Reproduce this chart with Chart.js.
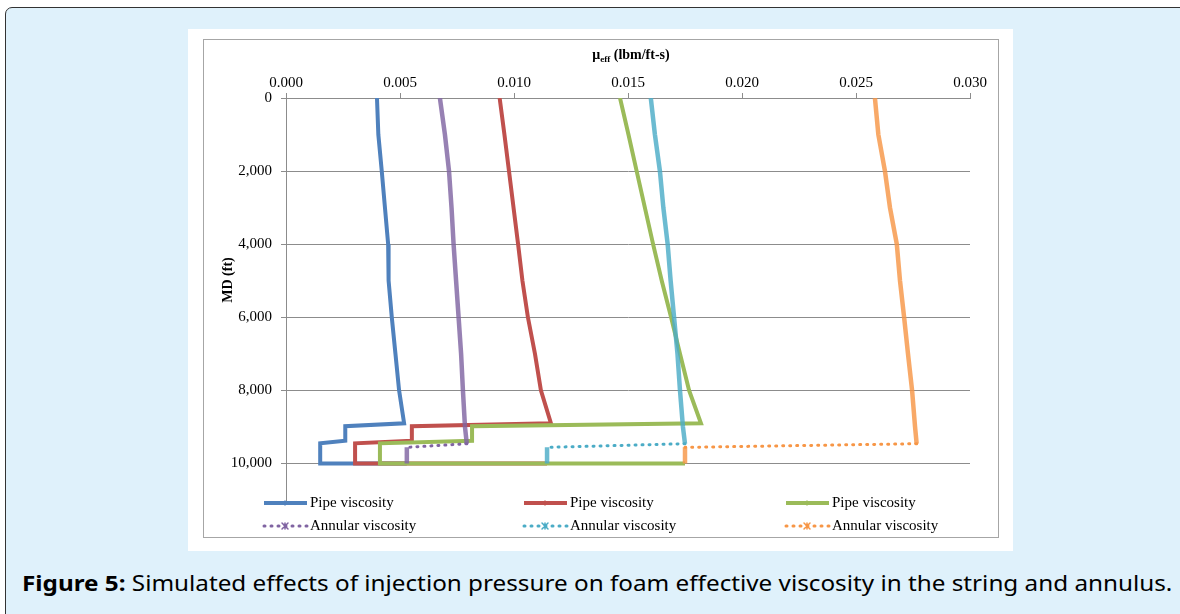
<!DOCTYPE html>
<html>
<head>
<meta charset="utf-8">
<script src="https://cdn.jsdelivr.net/npm/chart.js@4.4.1/dist/chart.umd.min.js"></script>
<style>
  body { margin: 0; background: #fff; width: 1180px; height: 614px; overflow: hidden; position: relative; }
  #moldura { position: absolute; left: 5px; top: 7px; width: 1200px; height: 640px; background: #dff1fb; border: 1.5px solid #333; border-radius: 7px; }
  #painel { position: absolute; left: 188px; top: 29px; width: 825px; height: 522px; background: #fff; }
  #caixa { position: absolute; left: 203px; top: 39px; width: 796px; height: 499px; box-sizing: border-box; border: 1.5px solid #a6a6a6; }
  #graficoViscosidade { position: absolute; left: 203px; top: 39px; }
  #legenda { position: absolute; left: 22px; top: 567px; margin: 0; font-family: "Noto Sans", sans-serif; font-size: 22px; color: #000; white-space: nowrap; transform-origin: 0 50%; }
</style>
</head>
<body>
<div id="moldura"></div>
<div id="painel"></div>
<div id="caixa"></div>
<canvas id="graficoViscosidade" width="796" height="499"></canvas>
<p id="legenda"><b>Figure 5:</b> Simulated effects of injection pressure on foam effective viscosity in the string and annulus.</p>
<script>
// depths (ft) for the pipe and annulus curves
const pipeDepth = [0, 1000, 2000, 3000, 4000, 5000, 6000, 7000, 8000, 8900, 8980, 9380, 9450, 10000, 10000];
const annularDepth = [0, 1000, 2000, 3000, 4000, 5000, 6000, 7000, 8000, 9000, 9460, 9560, 10000];

// effective viscosity (lbm/ft-s)
const pipeBlue = [0.00399, 0.00405, 0.0042, 0.00434, 0.00448, 0.0045, 0.00464, 0.0048, 0.00496, 0.00518, 0.0026, 0.0026, 0.0015, 0.0015, 0.0053];
const pipeRed = [0.00937, 0.00958, 0.00978, 0.00998, 0.01018, 0.01037, 0.01061, 0.01092, 0.01118, 0.01162, 0.00552, 0.00552, 0.00303, 0.00303, 0.01145];
const pipeGreen = [0.01465, 0.01502, 0.01538, 0.01574, 0.0161, 0.01648, 0.01689, 0.01728, 0.01768, 0.0182, 0.00816, 0.00816, 0.00412, 0.00412, 0.0175];
const annularPurple = [0.00675, 0.00697, 0.00715, 0.00726, 0.00735, 0.00746, 0.00757, 0.00768, 0.00776, 0.00785, 0.00793, 0.0053, 0.0053];
const annularTeal = [0.016, 0.01618, 0.0164, 0.01655, 0.01674, 0.01687, 0.01702, 0.01717, 0.01728, 0.01741, 0.0175, 0.01145, 0.01145];
const annularOrange = [0.02583, 0.02598, 0.02627, 0.02649, 0.02679, 0.02693, 0.02711, 0.02728, 0.02746, 0.02759, 0.02766, 0.0175, 0.0175];

const seriesLabels = ['Pipe viscosity', 'Pipe viscosity', 'Pipe viscosity', 'Annular viscosity', 'Annular viscosity', 'Annular viscosity'];
const depthTicks = [0, 2000, 4000, 6000, 8000, 10000];

const serif = '"Liberation Serif", "Times New Roman", serif';

// stretch the caption to the same width as in the figure
const $legenda = document.getElementById('legenda');
$legenda.style.transform = 'scaleX(' + (1150 / $legenda.offsetWidth) + ')';

function pontos(depths, values){
    return values.map((v, i) => ({ x: v, y: depths[i] }));
}

function plano(ctx){
    return Math.abs(ctx.p1.y - ctx.p0.y) < 12;
}

function serie(label, depths, values, color, annular, order){
    const ds = {
        label: label,
        data: pontos(depths, values),
        borderColor: color,
        backgroundColor: color,
        borderWidth: annular ? 4.5 : 4,
        pointRadius: 0,
        showLine: true,
        tension: 0,
        order: order,
        annular: annular
    };
    if (annular) {
        // nearly flat jumps are drawn dotted, the dense parts look solid
        ds.segment = {
            borderDash: ctx => plano(ctx) ? [1, 6] : undefined,
            borderWidth: ctx => plano(ctx) ? 3 : undefined,
            borderCapStyle: ctx => plano(ctx) ? 'round' : undefined,
            borderColor: ctx => plano(ctx) ? undefined : color + 'd0'
        };
    }
    return ds;
}

const decoracao = {
    id: 'decoracao',
    afterDraw(chart){
        const ctx = chart.ctx;
        ctx.save();
        ctx.fillStyle = '#000';

        // x title with subscript
        const big = 'bold 14px ' + serif;
        const small = 'bold 9px ' + serif;
        ctx.font = big;
        const wMu = ctx.measureText('\u03bc').width;
        const wRest = ctx.measureText(' (lbm/ft-s)').width;
        ctx.font = small;
        const wSub = ctx.measureText('eff').width;
        let x = 428 - (wMu + wSub + wRest) / 2;
        const base = 20;
        ctx.textBaseline = 'alphabetic';
        ctx.textAlign = 'left';
        ctx.font = big;
        ctx.fillText('\u03bc', x, base);
        x += wMu;
        ctx.font = small;
        ctx.fillText('eff', x, base + 3);
        x += wSub;
        ctx.font = big;
        ctx.fillText(' (lbm/ft-s)', x, base);

        // y title
        ctx.save();
        ctx.translate(25, 241);
        ctx.rotate(-Math.PI / 2);
        ctx.textAlign = 'center';
        ctx.textBaseline = 'middle';
        ctx.font = big;
        ctx.fillText('MD (ft)', 0, 0);
        ctx.restore();

        // legend, 3 columns x 2 rows
        const colX = [59, 319, 581];
        const rowY = [464, 487];
        ctx.font = '15px ' + serif;
        ctx.textBaseline = 'middle';
        ctx.textAlign = 'left';
        chart.data.datasets.forEach((ds, i) => {
            const cx = colX[i % 3];
            const cy = rowY[Math.floor(i / 3)];
            ctx.strokeStyle = ds.borderColor;
            ctx.beginPath();
            if (ds.annular) {
                ctx.lineWidth = 3;
                ctx.lineCap = 'round';
                ctx.setLineDash([1, 6]);
            } else {
                ctx.lineWidth = 4;
                ctx.lineCap = 'butt';
                ctx.setLineDash([]);
            }
            ctx.moveTo(cx + 2, cy);
            ctx.lineTo(cx + 45, cy);
            ctx.stroke();
            ctx.setLineDash([]);
            // marker in the middle of the sample
            ctx.lineWidth = 1.5;
            ctx.beginPath();
            if (ds.annular) {
                const m = cx + 23, r = 3;
                ctx.moveTo(m - r, cy - r); ctx.lineTo(m + r, cy + r);
                ctx.moveTo(m - r, cy + r); ctx.lineTo(m + r, cy - r);
                ctx.moveTo(m, cy - r); ctx.lineTo(m, cy + r);
            } else {
                ctx.moveTo(cx + 23, cy - 2.5); ctx.lineTo(cx + 23, cy + 2.5);
            }
            ctx.stroke();
            ctx.fillStyle = '#000';
            ctx.fillText(ds.label, cx + 48, cy);
        });
        ctx.restore();
    }
};

const $grafico = document.getElementById('graficoViscosidade');

const graficoViscosidade = new Chart($grafico, {
    type: 'scatter',
    data: {
        datasets: [
            serie(seriesLabels[0], pipeDepth, pipeBlue, '#4F81BD', false, 6),
            serie(seriesLabels[1], pipeDepth, pipeRed, '#C0504D', false, 5),
            serie(seriesLabels[2], pipeDepth, pipeGreen, '#9BBB59', false, 4),
            serie(seriesLabels[3], annularDepth, annularPurple, '#8064A2', true, 3),
            serie(seriesLabels[4], annularDepth, annularTeal, '#4BACC6', true, 2),
            serie(seriesLabels[5], annularDepth, annularOrange, '#F79646', true, 1)
        ]
    },
    options: {
        responsive: false,
        animation: false,
        devicePixelRatio: 1,
        layout: { padding: { left: 0, right: 29, top: 0, bottom: 38 } },
        plugins: {
            legend: { display: false },
            tooltip: { enabled: false }
        },
        scales: {
            x: {
                type: 'linear',
                position: 'top',
                min: 0,
                max: 0.03,
                afterFit: s => { s.height = 59; },
                ticks: {
                    stepSize: 0.005,
                    callback: v => v.toFixed(3),
                    color: '#000',
                    padding: 1,
                    font: { family: serif, size: 15 }
                },
                grid: { drawOnChartArea: false, tickLength: 5, color: '#8c8c8c' },
                border: { color: '#8c8c8c', width: 1 }
            },
            y: {
                type: 'linear',
                reverse: true,
                min: 0,
                max: 11000,
                afterFit: s => { s.width = 83; },
                afterBuildTicks: s => { s.ticks = depthTicks.map(v => ({ value: v })); },
                ticks: {
                    callback: v => v.toLocaleString('en-US'),
                    color: '#000',
                    padding: 9,
                    font: { family: serif, size: 15 }
                },
                grid: { tickLength: 5, color: '#8c8c8c', lineWidth: 1 },
                border: { color: '#8c8c8c', width: 1 }
            }
        }
    },
    plugins: [decoracao]
});
</script>
</body>
</html>
